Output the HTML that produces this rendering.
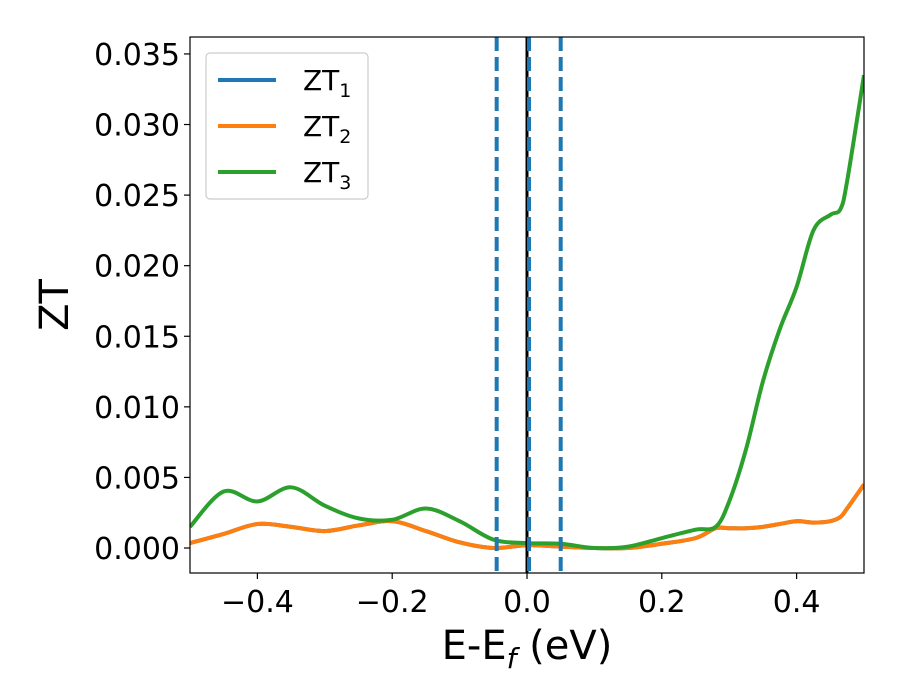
<!DOCTYPE html>
<html><head><meta charset="utf-8"><style>body{margin:0;background:#fff}svg{display:block;font-family:"DejaVu Sans","Liberation Sans",sans-serif}</style></head>
<body>
<svg id="c" width="900" height="700"></svg>
<script>
const xs=[-0.5,-0.45,-0.4,-0.35,-0.3,-0.25,-0.2,-0.15,-0.1,-0.05,0,0.05,0.1,0.15,0.2,0.25,0.28,0.3,0.325,0.35,0.375,0.4,0.425,0.45,0.465,0.475,0.5];
const zt1=[0.00035,0.001,0.0017,0.0015,0.0012,0.0016,0.0019,0.0012,0.0004,0.0,0.0002,0.0001,0.0,0.0,0.0003,0.0007,0.0014,0.0014,0.0014,0.0015,0.0017,0.0019,0.0018,0.0019,0.0022,0.0028,0.0045];
const zt2=[0.00035,0.001,0.0017,0.0015,0.0012,0.0016,0.0019,0.0012,0.0004,0.0,0.0002,0.0001,0.0,0.0,0.0003,0.0007,0.0014,0.0014,0.0014,0.0015,0.0017,0.0019,0.0018,0.0019,0.0022,0.0028,0.0045];
const zt3=[0.0015,0.004,0.0033,0.0043,0.003,0.0021,0.0020,0.0028,0.0019,0.0006,0.00035,0.0003,0.0,0.0001,0.0007,0.0013,0.0015,0.0033,0.007,0.0118,0.0155,0.0185,0.0225,0.0236,0.024,0.026,0.0335];
const xTicks=[-0.4,-0.2,0.0,0.2,0.4];
const xTickLabels=["\u22120.4","\u22120.2","0.0","0.2","0.4"];
const yTicks=[0,0.005,0.01,0.015,0.02,0.025,0.03,0.035];
const yTickLabels=["0.000","0.005","0.010","0.015","0.020","0.025","0.030","0.035"];
const vlinesDashed=[-0.045,0.05,0.003];
const L=190,R=864,T=37,B=573,X0=-0.5,X1=0.5,Y0=-0.00177,Y1=0.0362;
const sx=v=>L+(v-X0)/(X1-X0)*(R-L), sy=v=>B-(v-Y0)/(Y1-Y0)*(B-T);
const svg=document.getElementById('c');const NS='http://www.w3.org/2000/svg';
function mk(t,a,p){const e=document.createElementNS(NS,t);for(const k in a)e.setAttribute(k,a[k]);(p||svg).appendChild(e);return e;}
const defs=mk('defs',{});const cp=mk('clipPath',{id:'cp'},defs);mk('rect',{x:L,y:T,width:R-L,height:B-T},cp);
function path(ys){const p=xs.map((x,i)=>[sx(x),sy(ys[i])]);let d='M'+p[0][0]+','+p[0][1];
for(let i=0;i<p.length-1;i++){const p0=p[Math.max(0,i-1)],p1=p[i],p2=p[i+1],p3=p[Math.min(p.length-1,i+2)];
d+=' C'+(p1[0]+(p2[0]-p0[0])/6)+','+(p1[1]+(p2[1]-p0[1])/6)+' '+(p2[0]-(p3[0]-p1[0])/6)+','+(p2[1]-(p3[1]-p1[1])/6)+' '+p2[0]+','+p2[1];}return d;}
const g=mk('g',{'clip-path':'url(#cp)'});

[[zt1,'#1f77b4','zt1-line'],[zt2,'#ff7f0e','zt2-line'],[zt3,'#2ca02c','zt3-line']].forEach(s=>{const e=mk('path',{d:path(s[0]),fill:'none',stroke:s[1],'stroke-width':4},g);
});
const k=mk('line',{x1:sx(0),x2:sx(0),y1:T,y2:B,stroke:'#000','stroke-width':3},g);

vlinesDashed.forEach(v=>{const e=mk('line',{x1:sx(v),x2:sx(v),y1:T,y2:B,stroke:'#1f77b4','stroke-width':4,'stroke-dasharray':'14,6'},g);
});
const fr=mk('rect',{x:L,y:T,width:R-L,height:B-T,fill:'none',stroke:'#000','stroke-width':1.2});

xTicks.forEach((v,i)=>{mk('line',{x1:sx(v),x2:sx(v),y1:B,y2:B+6,stroke:'#000','stroke-width':1.2});
const t=mk('text',{x:sx(v),y:B+39,'font-size':30,'text-anchor':'middle'});t.textContent=xTickLabels[i];
});
yTicks.forEach((v,i)=>{mk('line',{x1:L-6,x2:L,y1:sy(v),y2:sy(v),stroke:'#000','stroke-width':1.2});
const t=mk('text',{x:L-10,y:sy(v)+11,'font-size':30,'text-anchor':'end'});t.textContent=yTickLabels[i];
});
</script>
<svg style="position:absolute;left:0;top:0" width="900" height="700">
<text x="527" y="659" font-size="40" text-anchor="middle">E-E<tspan font-style="italic" font-size="28" dy="9">f</tspan><tspan dy="-9"> (eV)</tspan></text>
<text transform="translate(68,305) rotate(-90)" font-size="40" text-anchor="middle">ZT</text>
<g>
<rect x="206" y="53" width="162" height="146" rx="4" fill="#fff" stroke="#ccc" stroke-width="1.2"/>
<line x1="218" x2="276" y1="80" y2="80" stroke="#1f77b4" stroke-width="4"/>
<text x="303" y="90" font-size="28">ZT<tspan font-size="19" dy="7">1</tspan></text>
<line x1="218" x2="276" y1="126" y2="126" stroke="#ff7f0e" stroke-width="4"/>
<text x="303" y="136" font-size="28">ZT<tspan font-size="19" dy="7">2</tspan></text>
<line x1="218" x2="276" y1="172" y2="172" stroke="#2ca02c" stroke-width="4"/>
<text x="303" y="182" font-size="28">ZT<tspan font-size="19" dy="7">3</tspan></text>
</g>
</svg>
</body></html>
